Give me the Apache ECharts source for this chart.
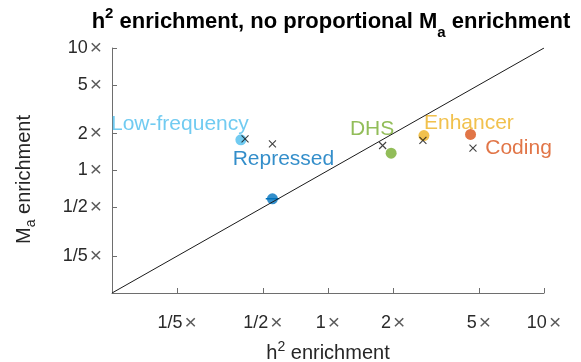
<!DOCTYPE html>
<html>
<head>
<meta charset="utf-8">
<script src="https://cdn.jsdelivr.net/npm/echarts@6/dist/echarts.min.js"></script>
<style>
  html, body { margin: 0; padding: 0; background: #ffffff; }
  #chart { width: 581px; height: 362px; }
</style>
</head>
<body>
<div id="chart"></div>
<script>
// Annotation categories
const categories = ['Low-frequency', 'Repressed', 'DHS', 'Enhancer', 'Coding'];

// Observed enrichments (filled circles)
const h2Enrichment = [0.395, 0.553, 1.96, 2.78, 4.57];
const maEnrichment = [1.78, 0.587, 1.384, 1.93, 1.97];

// Model expectation (crosses)
const expectedH2 = [0.413, 0.553, 1.79, 2.75, 4.69];
const expectedMa = [1.815, 1.652, 1.60, 1.758, 1.52];

// Horizontal interval around the Repressed estimate
const repressedH2Range = [0.515, 0.595];

// Axis ticks
const tickValues = [0.2, 0.5, 1, 2, 5, 10];
const tickLabels = ['1/5', '1/2', '1', '2', '5', '10'];

// Extent of both axes and of the y = x reference line
const axisExtent = [0.1, 10];

const palette = ['#4DBEEE', '#0072BD', '#77AC30', '#EDB120', '#D95319'];
// Text offset of each category label from its circle, in pixels
const labelOffsets = [[-61, -16], [11, -40], [-19, -24], [45, -12], [48, 14]];

const FONT = '"Liberation Sans", Arial, Helvetica, sans-serif';
const AXIS_GREY = '#6e6e6e';

function tickFormatter(v) {
  for (let i = 0; i < tickValues.length; i++) {
    if (Math.abs(Math.log10(v) - Math.log10(tickValues[i])) < 1e-6) {
      return '{n|' + tickLabels[i] + '}{x|×}';
    }
  }
  return '';
}

const tickRich = {
  n: { fontFamily: FONT, fontSize: 18, color: '#2a2a2a' },
  x: { fontFamily: FONT, fontSize: 21, color: '#5a5a5a', padding: [0, 0, 0, 2] }
};

function logAxis(extra) {
  return Object.assign({
    type: 'log',
    logBase: 10,
    min: axisExtent[0],
    max: axisExtent[1],
    splitLine: { show: false },
    minorTick: { show: false },
    axisLine: { show: true, lineStyle: { color: AXIS_GREY, width: 1 } },
    axisTick: { show: true, inside: true, length: 5, customValues: tickValues,
                lineStyle: { color: AXIS_GREY, width: 1 } },
    axisLabel: { customValues: tickValues, formatter: tickFormatter, rich: tickRich }
  }, extra);
}

const circleData = categories.map((name, i) => ({
  name: name,
  value: [h2Enrichment[i], maEnrichment[i]],
  itemStyle: { color: palette[i] },
  label: {
    show: true,
    position: 'inside',
    offset: labelOffsets[i],
    formatter: name,
    color: palette[i],
    fontFamily: FONT,
    fontSize: 21
  }
}));

const crossData = categories.map((name, i) => [expectedH2[i], expectedMa[i]]);

const option = {
  animation: false,
  backgroundColor: '#ffffff',
  title: {
    text: 'h{sup|2} enrichment, no proportional M{sub|a} enrichment',
    left: 326,
    textAlign: 'center',
    top: 1,
    textStyle: {
      fontFamily: FONT,
      fontSize: 22,
      fontWeight: 'bold',
      color: '#000000',
      lineHeight: 32,
      rich: {
        sup: { fontFamily: FONT, fontSize: 15, fontWeight: 'bold', color: '#000', padding: [0, 0, 16, 0] },
        sub: { fontFamily: FONT, fontSize: 15, fontWeight: 'bold', color: '#000', padding: [22, 0, 0, 0] }
      }
    }
  },
  grid: { left: 112, right: 37, top: 48, bottom: 69, outerBoundsMode: 'none', containLabel: false },
  xAxis: logAxis({
    name: 'h{sup|2} enrichment',
    nameLocation: 'middle',
    nameGap: 47,
    nameTextStyle: {
      fontFamily: FONT, fontSize: 20, color: '#262626',
      rich: {
        sup: { fontFamily: FONT, fontSize: 14, color: '#262626', padding: [0, 0, 12, 0] }
      }
    },
    axisLabel: { customValues: tickValues, formatter: tickFormatter, rich: tickRich, margin: 20 }
  }),
  yAxis: logAxis({
    name: 'M{sub|a} enrichment',
    nameLocation: 'middle',
    nameRotate: 90,
    nameGap: 74,
    nameTextStyle: {
      fontFamily: FONT, fontSize: 20, color: '#262626',
      padding: [0, 18, 0, 0],
      rich: {
        sub: { fontFamily: FONT, fontSize: 14, color: '#262626', padding: [14, 0, 0, 0] }
      }
    },
    axisLabel: { customValues: tickValues, formatter: tickFormatter, rich: tickRich, margin: 10 }
  }),
  series: [
    {
      // y = x reference
      type: 'line',
      data: axisExtent.map(v => [v, v]),
      symbol: 'none',
      lineStyle: { color: '#1a1a1a', width: 1 },
      z: 5,
      silent: true
    },
    {
      type: 'line',
      data: repressedH2Range.map(v => [v, maEnrichment[1]]),
      symbol: 'none',
      lineStyle: { color: palette[1], width: 1.5 },
      z: 3,
      silent: true
    },
    {
      type: 'scatter',
      data: circleData,
      symbol: 'circle',
      symbolSize: 11,
      z: 4
    },
    {
      type: 'scatter',
      data: crossData,
      symbol: 'path://M0,0L10,10M10,0L0,10',
      symbolSize: 7,
      itemStyle: { color: 'none', borderColor: '#111111', borderWidth: 1.1 },
      z: 6
    }
  ]
};

const chart = echarts.init(document.getElementById('chart'), null, { renderer: 'canvas' });
chart.setOption(option);
</script>
</body>
</html>
